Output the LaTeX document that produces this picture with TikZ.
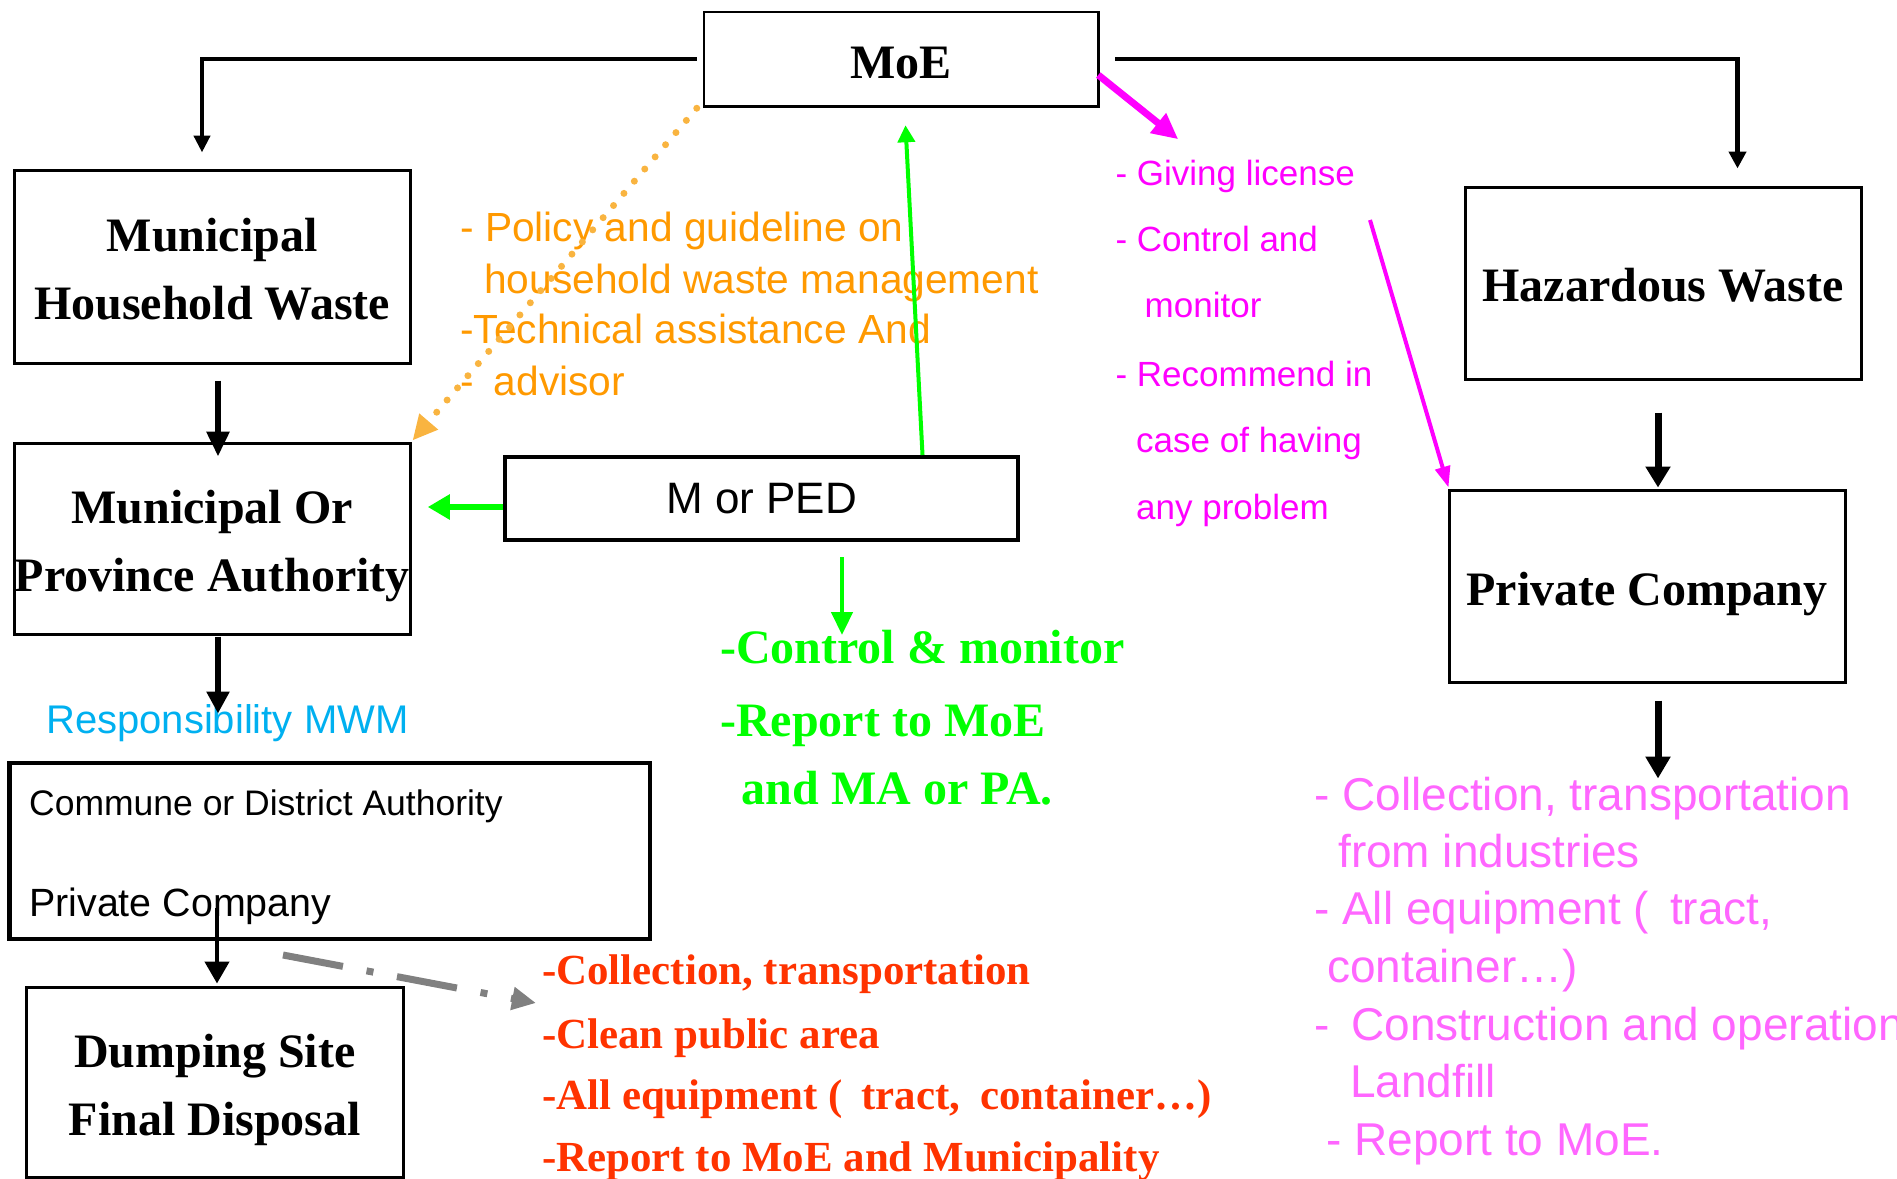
\documentclass[tikz,border=0pt]{standalone}
\usepackage{fontspec}
\setmainfont{Liberation Serif}
\setsansfont{Liberation Sans}
\usetikzlibrary{arrows.meta,calc}
\definecolor{orgtext}{HTML}{FF9900}
\definecolor{orgdot}{HTML}{F9B440}
\definecolor{grn}{HTML}{00FF00}
\definecolor{mag}{HTML}{FF00FF}
\definecolor{pnk}{HTML}{FF66FF}
\definecolor{redt}{HTML}{FF3300}
\definecolor{cyn}{HTML}{00B0F0}
\definecolor{gry}{HTML}{808080}
\newcommand{\myfs}[2]{\fontsize{#1pt}{#2pt}\selectfont}
\newcommand{\tup}[1]{\rule{0pt}{#1pt}}
\begin{document}
\begin{tikzpicture}[x=1pt,y=-1pt,
  box/.style={draw=black,line width=3pt,inner sep=0pt,align=center,font={\myfs{48}{68}\bfseries}},
  lbl/.style={anchor=base west,inner sep=0pt},
  orgt/.style={lbl,text=orgtext,font={\sffamily\myfs{40.7}{48}}},
  grnt/.style={lbl,text=grn,font={\myfs{48}{56}\bfseries}},
  redtx/.style={lbl,text=redt,font={\myfs{42.9}{50}\bfseries}},
  magt/.style={lbl,text=mag,font={\sffamily\myfs{35}{42}}},
  pnkt/.style={lbl,text=pnk,font={\sffamily\myfs{46}{54}}},
  blk/.style={draw=black,line join=miter}
]
\useasboundingbox (0,0) rectangle (1897,1178);
\clip (0,0) rectangle (1897,1178);

% boxes
\node[box,line width=2.5pt,minimum width=394.5pt,minimum height=94.5pt] (moe) at (901.25,59.25) {\tup{38}MoE};
\node[box,minimum width=395.5pt,minimum height=192.4pt] (mhw) at (212.25,266.8) {\tup{38}Municipal\\Household Waste};
\node[box,minimum width=395.5pt,minimum height=191pt] (mpa) at (212.25,538.5) {\tup{48}Municipal Or\\Province Authority};
\node[box,line width=4pt,minimum width=513pt,minimum height=83pt,font={\sffamily\myfs{44}{50}}] (morped) at (761.5,498.5) {M or PED};
\node[box,minimum width=396pt,minimum height=191.5pt] (hw) at (1663,283.25) {\tup{38}Hazardous Waste};
\node[box,minimum width=396pt,minimum height=192pt] (pc) at (1647,586) {\tup{50}Private Company};
\node[draw=black,line width=4.5pt,inner sep=0pt,minimum width=640.3pt,minimum height=176pt] (commune) at (329.85,851) {};
\node[box,minimum width=376.4pt,minimum height=190pt] (dump) at (214.8,1082) {\tup{49}Dumping Site\\Final Disposal};

% texts inside / near boxes
\node[lbl,font={\sffamily\myfs{35.5}{42}}] (cda) at (29,815) {Commune or District Authority};
\node[lbl,font={\sffamily\myfs{39.4}{46}}] (pco) at (29,916.7) {Private Company};
\node[lbl,text=cyn,font={\sffamily\myfs{40}{46}}] (resp) at (46,733.3) {Responsibility MWM};

% orange texts
\node[orgt] (o1) at (460,241) {- Policy and guideline on};
\node[orgt] (o2) at (484,293) {household waste management};
\node[orgt] (o3) at (460,343) {-Technical assistance And};
\node[orgt] (o4) at (460,395) {-\hspace{20pt}advisor};

% green texts
\node[grnt] (g1) at (720,663) {-Control \& monitor};
\node[grnt] (g2) at (720,736) {-Report to MoE};
\node[grnt] (g3) at (741.6,804) {and MA or PA.};

% red texts
\node[redtx] (r1) at (542,984) {-Collection, transportation};
\node[redtx] (r2) at (542,1048.5) {-Clean public area};
\node[redtx] (r3) at (542,1109.5) {-All equipment (\hspace{19pt}tract,\hspace{20pt}container…)};
\node[redtx] (r4) at (542,1171.5) {-Report to MoE and Municipality};

% magenta texts
\node[magt] (m1) at (1115.4,185.7) {- Giving license};
\node[magt] (m2) at (1115.4,251.8) {- Control and};
\node[magt] (m3) at (1144.5,317.9) {monitor};
\node[magt] (m4) at (1115.4,386.4) {- Recommend in};
\node[magt] (m5) at (1136,452.9) {case of having};
\node[magt] (m6) at (1136,519.6) {any problem};

% pink texts
\node[pnkt] (p1) at (1314,810) {- Collection, transportation};
\node[pnkt] (p2) at (1338,867) {from industries};
\node[pnkt] (p3) at (1314,924.4) {- All equipment (\hspace{21pt}tract,};
\node[pnkt] (p4) at (1327,982.7) {container…)};
\node[pnkt] (p5) at (1314,1040.6) {-\hspace{22pt}Construction and operation};
\node[pnkt] (p6) at (1350,1097.8) {Landfill};
\node[pnkt] (p7) at (1326,1155.7) {- Report to MoE.};

% free coordinates
\coordinate (mgs) at (1370,220);
\coordinate (gs) at (283,955);
\coordinate (ge) at (536,1003);
\coordinate (cs) at (217,908);

% black connectors
\draw[blk,line width=4.5pt,-{Triangle[length=17pt,width=16pt]}]
  ($(moe.west)+(-6,-0.25)$) -| ($(mhw.north)+(-10.25,-16.6)$);
\draw[blk,line width=4.5pt,-{Triangle[length=17pt,width=17pt]}]
  ($(moe.east)+(15.5,-0.25)$) -| ($(hw.north)+(74.5,-17.5)$);
\draw[blk,line width=6pt,-{Triangle[length=25pt,width=22pt]}]
  ($(mhw.south)+(5.75,16)$) -- ($(mpa.north)+(5.75,15)$);
\draw[blk,line width=6pt,-{Triangle[length=22pt,width=22pt]}]
  ($(mpa.south)+(5.75,1)$) -- ($(mpa.south)+(5.75,78)$);
\draw[blk,line width=4.5pt,-{Triangle[length=22pt,width=24pt]}]
  (cs) -- ($(dump.north)+(2.2,-2)$);
\draw[blk,line width=7pt,-{Triangle[length=21pt,width=24pt]}]
  ($(hw.south)+(-5,32)$) -- ($(pc.north)+(11,-1)$);
\draw[blk,line width=7pt,-{Triangle[length=22pt,width=24pt]}]
  ($(pc.south)+(11,17)$) -- ($(pc.south)+(11,95)$);

% green connectors
\draw[grn,line width=4pt,-{Triangle[length=17pt,width=17pt]}]
  ($(morped.north)+(161,0)$) -- ($(moe.south)+(4.25,17.5)$);
\draw[grn,line width=5.5pt,-{Triangle[length=22pt,width=24pt]}]
  ($(morped.west)+(0,8.5)$) -- ($(mpa.east)+(16.25,-31.5)$);
\draw[grn,line width=4.5pt,-{Triangle[length=23pt,width=21pt]}]
  ($(morped.south)+(80.5,15)$) -- ($(morped.south)+(80.5,93)$);

% magenta connectors
\draw[mag,line width=7pt,-{Triangle[length=26pt,width=24pt]}]
  ($(moe.east)+(-1.5,15.75)$) -- ($(moe.south east)+(78.5,31.5)$);
\draw[mag,line width=4pt,-{Triangle[length=21pt,width=15pt]}]
  (mgs) -- ($(pc.north west)+(1,-1)$);

% orange dotted connector
\draw[orgdot,line width=7pt,line cap=round,dash pattern=on 0pt off 16pt,
  -{Triangle[length=25pt,width=23pt]}]
  ($(moe.south west)+(-6,0.5)$) -- ($(mpa.north east)+(1,-1)$);

% gray dash-dot connector
\draw[gry,line width=7pt,dash pattern=on 61pt off 24pt on 7pt off 24pt,
  -{Triangle[length=24pt,width=22pt]}]
  (gs) -- (ge);
\end{tikzpicture}
\end{document}
